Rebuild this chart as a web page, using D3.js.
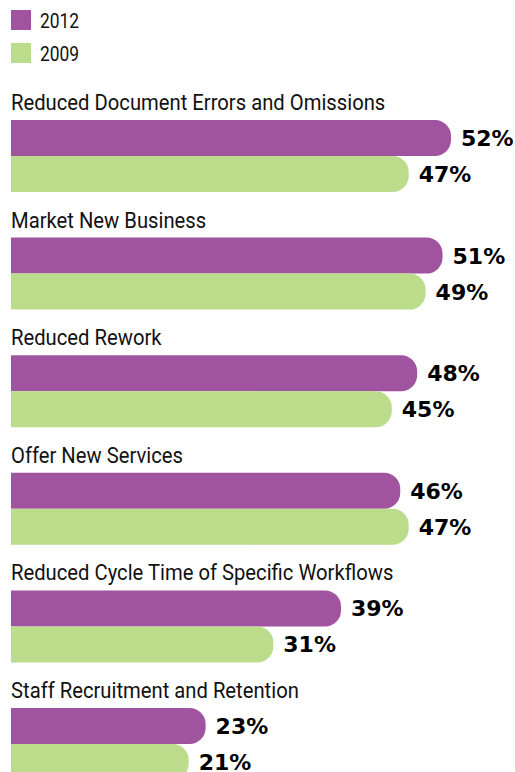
<!DOCTYPE html>
<html><head><meta charset="utf-8">
<script src="https://cdn.jsdelivr.net/npm/d3@7/dist/d3.min.js"></script>
<style>html,body{margin:0;padding:0;background:#fff;overflow:hidden}</style>
</head><body>
<svg id="chart" width="515" height="772"></svg>
<script>
const categories = ["Reduced Document Errors and Omissions","Market New Business","Reduced Rework","Offer New Services","Reduced Cycle Time of Specific Workflows","Staff Recruitment and Retention"];
const seriesNames = ["2012","2009"];
const values2012 = [52,51,48,46,39,23];
const values2009 = [47,49,45,47,31,21];
const colors = {"2012":"#A0539E","2009":"#BBDC8A"};

const svg = d3.select("#chart");
const x = d3.scaleLinear().domain([0,52]).range([11,451]);
const y = d3.scaleBand().domain(categories).range([120,120+6*117.6]).padding(0);
const ys = d3.scaleBand().domain(seriesNames).range([0,72]).padding(0);
const labelFont = "Roboto,'Liberation Sans',sans-serif";

// legend
const leg = svg.append("g");
seriesNames.forEach((s,i)=>{
  leg.append("rect").attr("x",11).attr("y",10+i*33).attr("width",20).attr("height",20).attr("fill",colors[s]);
  leg.append("text").attr("transform",`translate(40,${28+i*33}) scale(0.87,1)`)
    .attr("font-family",labelFont).attr("font-size",20).attr("fill","#111").text(s);
});

function barPath(x0,y0,w,h,r){
  r=Math.min(r,w,h/2);
  return `M${x0},${y0}H${x0+w-r}A${r},${r} 0 0 1 ${x0+w},${y0+r}V${y0+h-r}A${r},${r} 0 0 1 ${x0+w-r},${y0+h}H${x0}Z`;
}

categories.forEach((c,i)=>{
  const g = svg.append("g").attr("transform",`translate(0,${y(c)})`);
  g.append("text").attr("transform","translate(11,-10) scale(0.92,1)")
    .attr("font-family",labelFont).attr("font-size",22).attr("fill","#111").text(c);
  const vals = {"2012":values2012[i],"2009":values2009[i]};
  seriesNames.forEach(s=>{
    const v=vals[s];
    g.append("path").attr("d",barPath(x(0),ys(s),x(v)-x(0),ys.bandwidth(),16)).attr("fill",colors[s]);
    g.append("text").attr("x",x(v)+10).attr("y",ys(s)+ys.bandwidth()/2+8)
      .attr("font-family","'DejaVu Sans',sans-serif").attr("font-weight","bold").attr("font-size",22).attr("fill","#000")
      .text(v+"%");
  });
});
</script>
</body></html>
